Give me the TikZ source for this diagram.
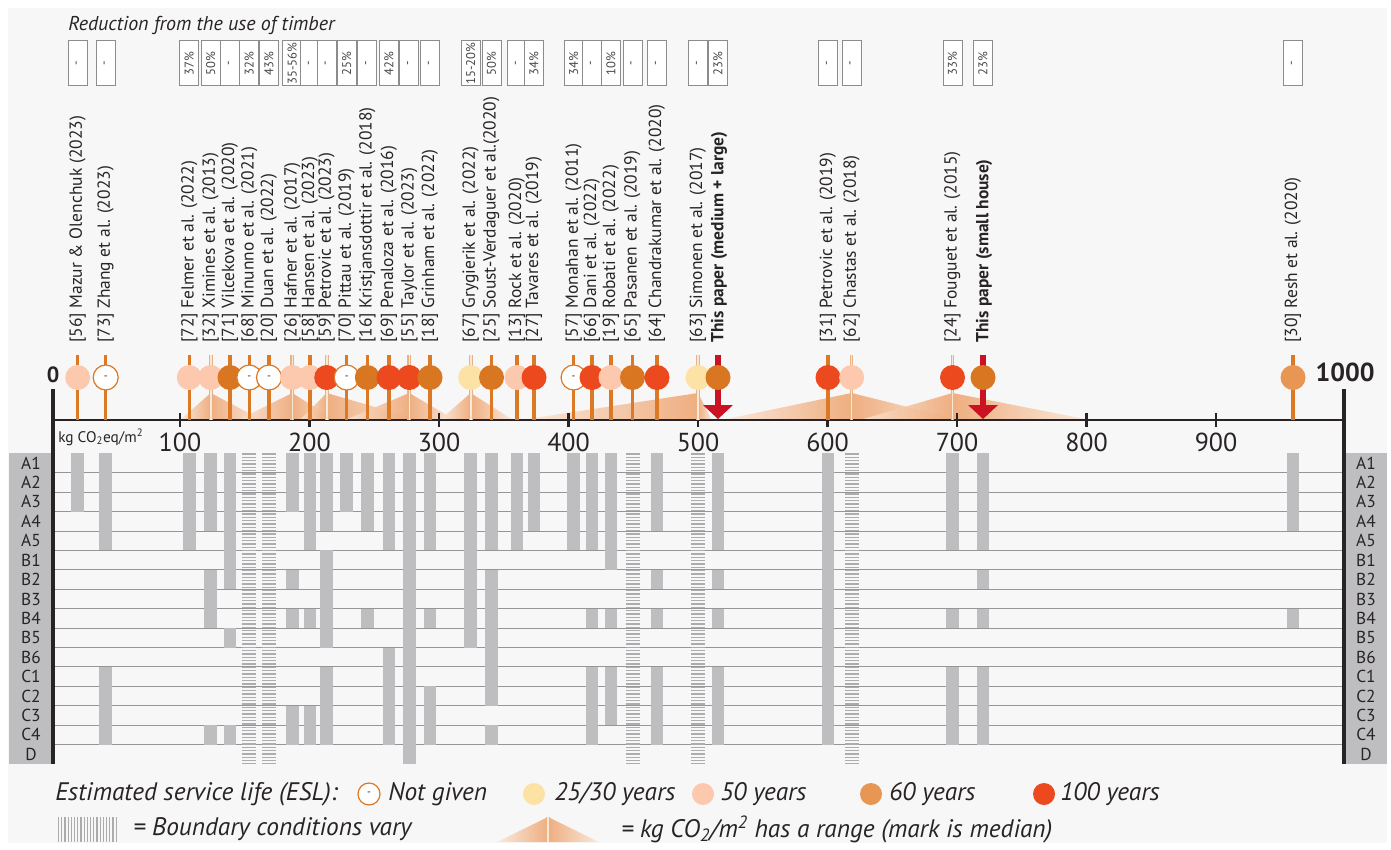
\documentclass[tikz,border=0pt]{standalone}
\usepackage{fontspec}
\setmainfont{PT Sans}
\definecolor{panel}{RGB}{247,247,247}
\definecolor{ink}{RGB}{40,36,37}
\definecolor{eslA}{RGB}{253,226,166}
\definecolor{eslB}{RGB}{252,201,174}
\definecolor{eslC}{RGB}{216,118,34}
\definecolor{eslCl}{RGB}{231,150,84}
\definecolor{eslD}{RGB}{236,74,30}
\definecolor{stemorange}{RGB}{219,121,38}
\definecolor{rangeedge}{RGB}{232,178,132}
\definecolor{rangelight}{RGB}{250,232,214}
\definecolor{rangeorange}{RGB}{238,162,108}
\definecolor{arrowred}{RGB}{202,18,34}
\definecolor{barg}{RGB}{190,190,193}
\definecolor{hatchg}{RGB}{172,172,174}
\definecolor{gridg}{RGB}{150,150,150}
\definecolor{boxgray}{RGB}{140,140,140}
\definecolor{pcttext}{RGB}{70,70,70}

\begin{document}
\begin{tikzpicture}[x=0.75pt,y=0.75pt,yscale=-1,xscale=1,
  stem/.style={draw=stemorange,line width=2.6pt},
  rstem/.style={draw=rangeedge,line width=0.8pt,double=rangelight,double distance=1.2pt},
  esl/.style={circle,inner sep=0pt,minimum size=18.75pt},
  eA/.style={esl,fill=eslA},
  eB/.style={esl,fill=eslB},
  eC/.style={esl,fill=eslC},
  eCl/.style={esl,fill=eslCl},
  eD/.style={esl,fill=eslD},
  eng/.style={esl,fill=white,draw=stemorange,line width=0.9pt,text=ink,font=\fontsize{8}{8}\selectfont},
  study/.style={rotate=90,anchor=west,inner sep=0pt,text=ink,font=\fontsize{13.1}{15}\selectfont},
  paper/.style={study,font=\fontsize{13.1}{15}\selectfont\bfseries},
  pct/.style={rotate=90,draw=boxgray,line width=0.6pt,fill=white,minimum width=33.75pt,minimum height=14.25pt,inner sep=0pt,text=pcttext,font=\fontsize{9.5}{10}\selectfont},
  bar/.style={fill=barg},
  hatch/.style={draw=hatchg,line width=10.5pt,dash pattern=on 1.1pt off 1.4pt},
  rowline/.style={draw=gridg,line width=0.7pt},
  rowlab/.style={inner sep=0pt,text=ink,font=\fontsize{13}{13}\selectfont},
  tickmark/.style={draw=ink,line width=2.2pt},
  ticklab/.style={inner sep=0pt,text=ink,font=\fontsize{19.5}{19.5}\selectfont},
  rampup/.style={left color=rangeorange!25,right color=rangeorange,fill opacity=0.85},
  rampdown/.style={left color=rangeorange,right color=rangeorange!25,fill opacity=0.85},
  legtext/.style={anchor=west,inner sep=0pt,text=ink,font=\fontsize{19}{19}\selectfont\itshape}]
\useasboundingbox (0,0) rectangle (1391,849);

%Shape: Rectangle [background]
\fill [white] (0,0) rectangle (1391,849);
\fill [panel] (8,8) rectangle (1387,843);

% Text Node
\draw (68,31) node [anchor=base west,inner sep=0pt,text=ink,font=\fontsize{15}{15}\selectfont\itshape] (title) {Reduction from the use of timber};

%Shape: Rectangle [reduction boxes]
\draw (77.7,63.4) node [pct] (r56) {-};
\draw (105.7,63.4) node [pct] (r73) {-};
\draw (189.3,63.4) node [pct] (r72) {37\%};
\draw (210.7,63.4) node [pct] (r32) {50\%};
\draw (230.0,63.4) node [pct] (r71) {-};
\draw (249.3,63.4) node [pct] (r68) {32\%};
\draw (269.0,63.4) node [pct] (r20) {43\%};
\draw (292.3,63.4) node [pct] (r26) {35-56\%};
\draw (310.0,63.4) node [pct] (r58) {-};
\draw (326.7,63.4) node [pct] (r59) {-};
\draw (346.7,63.4) node [pct] (r70) {25\%};
\draw (367.3,63.4) node [pct] (r16) {-};
\draw (389.0,63.4) node [pct] (r69) {42\%};
\draw (409.3,63.4) node [pct] (r55) {-};
\draw (430.0,63.4) node [pct] (r18) {-};
\draw (470.7,63.4) node [pct] (r67) {15-20\%};
\draw (491.5,63.4) node [pct] (r25) {50\%};
\draw (517.0,63.4) node [pct] (r13) {-};
\draw (534.0,63.4) node [pct] (r27) {34\%};
\draw (573.6,63.4) node [pct] (r57) {34\%};
\draw (592.0,63.4) node [pct] (r66) {-};
\draw (611.0,63.4) node [pct] (r19) {10\%};
\draw (632.5,63.4) node [pct] (r65) {-};
\draw (657.0,63.4) node [pct] (r64) {-};
\draw (698.0,63.4) node [pct] (r63) {-};
\draw (718.0,63.4) node [pct] (rpa) {23\%};
\draw (828.0,63.4) node [pct] (r31) {-};
\draw (851.6,63.4) node [pct] (r62) {-};
\draw (952.5,63.4) node [pct] (r24) {33\%};
\draw (983.0,63.4) node [pct] (rpb) {23\%};
\draw (1293.0,63.4) node [pct] (r30) {-};

%Shape: Triangle [ranges]
\shade [rampup] (180,420) -- (210.7,393) -- (210.7,420) -- cycle;
\shade [rampdown] (210.7,420) -- (210.7,393) -- (262,420) -- cycle;
\shade [rampup] (238,420) -- (292.3,393) -- (292.3,420) -- cycle;
\shade [rampdown] (292.3,420) -- (292.3,393) -- (335,420) -- cycle;
\shade [rampup] (300,420) -- (326.7,393) -- (326.7,420) -- cycle;
\shade [rampdown] (326.7,420) -- (326.7,393) -- (420,420) -- cycle;
\shade [rampup] (345,420) -- (409.3,393) -- (409.3,420) -- cycle;
\shade [rampdown] (409.3,420) -- (409.3,393) -- (455,420) -- cycle;
\shade [rampup] (440,420) -- (470.7,393) -- (470.7,420) -- cycle;
\shade [rampdown] (470.7,420) -- (470.7,393) -- (513,420) -- cycle;
\shade [rampup] (521,420) -- (698,393) -- (698,420) -- cycle;
\shade [rampdown] (698,420) -- (698,393) -- (712,420) -- cycle;
\shade [rampup] (722,420) -- (851.6,393) -- (851.6,420) -- cycle;
\shade [rampdown] (851.6,420) -- (851.6,393) -- (960,420) -- cycle;
\shade [rampup] (860,420) -- (952.5,393) -- (952.5,420) -- cycle;
\shade [rampdown] (952.5,420) -- (952.5,393) -- (1090,420) -- cycle;

%Straight Lines [grid rows]
\draw [rowline] (55,472.7) -- (1342,472.7);
\draw [rowline] (55,492.1) -- (1342,492.1);
\draw [rowline] (55,511.6) -- (1342,511.6);
\draw [rowline] (55,531.0) -- (1342,531.0);
\draw [rowline] (55,550.4) -- (1342,550.4);
\draw [rowline] (55,569.8) -- (1342,569.8);
\draw [rowline] (55,589.2) -- (1342,589.2);
\draw [rowline] (55,608.7) -- (1342,608.7);
\draw [rowline] (55,628.1) -- (1342,628.1);
\draw [rowline] (55,647.5) -- (1342,647.5);
\draw [rowline] (55,666.9) -- (1342,666.9);
\draw [rowline] (55,686.3) -- (1342,686.3);
\draw [rowline] (55,705.8) -- (1342,705.8);
\draw [rowline] (55,725.2) -- (1342,725.2);
\draw [rowline] (55,744.6) -- (1342,744.6);

%Shape: Rectangle [life cycle stages covered]
\fill [bar] (71.4,453.3) rectangle (84.0,511.6);
\fill [bar] (99.4,453.3) rectangle (112.0,550.4);
\fill [bar] (99.4,666.9) rectangle (112.0,744.6);
\fill [bar] (183.0,453.3) rectangle (195.6,550.4);
\fill [bar] (204.4,453.3) rectangle (217.0,531.0);
\fill [bar] (204.4,569.8) rectangle (217.0,628.1);
\fill [bar] (204.4,725.2) rectangle (217.0,744.6);
\fill [bar] (223.7,453.3) rectangle (236.3,589.2);
\fill [bar] (223.7,628.1) rectangle (236.3,647.5);
\fill [bar] (223.7,725.2) rectangle (236.3,744.6);
\draw [hatch] (249.3,453.3) -- (249.3,764);
\draw [hatch] (269.0,453.3) -- (269.0,764);
\fill [bar] (286.0,453.3) rectangle (298.6,511.6);
\fill [bar] (286.0,569.8) rectangle (298.6,589.2);
\fill [bar] (286.0,608.7) rectangle (298.6,628.1);
\fill [bar] (286.0,705.8) rectangle (298.6,744.6);
\fill [bar] (303.7,453.3) rectangle (316.3,550.4);
\fill [bar] (303.7,608.7) rectangle (316.3,628.1);
\fill [bar] (303.7,705.8) rectangle (316.3,744.6);
\fill [bar] (320.4,453.3) rectangle (333.0,531.0);
\fill [bar] (320.4,550.4) rectangle (333.0,647.5);
\fill [bar] (320.4,666.9) rectangle (333.0,744.6);
\fill [bar] (340.4,453.3) rectangle (353.0,511.6);
\fill [bar] (361.0,453.3) rectangle (373.6,531.0);
\fill [bar] (361.0,608.7) rectangle (373.6,628.1);
\fill [bar] (382.7,453.3) rectangle (395.3,550.4);
\fill [bar] (382.7,647.5) rectangle (395.3,744.6);
\fill [bar] (403.0,453.3) rectangle (415.6,764.0);
\fill [bar] (423.7,453.3) rectangle (436.3,550.4);
\fill [bar] (423.7,608.7) rectangle (436.3,628.1);
\fill [bar] (423.7,686.3) rectangle (436.3,744.6);
\fill [bar] (464.4,453.3) rectangle (477.0,647.5);
\fill [bar] (485.2,453.3) rectangle (497.8,550.4);
\fill [bar] (485.2,569.8) rectangle (497.8,705.8);
\fill [bar] (485.2,725.2) rectangle (497.8,744.6);
\fill [bar] (510.7,453.3) rectangle (523.3,550.4);
\fill [bar] (527.7,453.3) rectangle (540.3,531.0);
\fill [bar] (567.3,453.3) rectangle (579.9,550.4);
\fill [bar] (585.7,453.3) rectangle (598.3,550.4);
\fill [bar] (585.7,608.7) rectangle (598.3,628.1);
\fill [bar] (585.7,666.9) rectangle (598.3,744.6);
\fill [bar] (604.7,453.3) rectangle (617.3,569.8);
\fill [bar] (604.7,608.7) rectangle (617.3,628.1);
\fill [bar] (604.7,666.9) rectangle (617.3,725.2);
\draw [hatch] (632.5,453.3) -- (632.5,764);
\fill [bar] (650.7,453.3) rectangle (663.3,531.0);
\fill [bar] (650.7,569.8) rectangle (663.3,589.2);
\fill [bar] (650.7,608.7) rectangle (663.3,628.1);
\fill [bar] (650.7,666.9) rectangle (663.3,744.6);
\draw [hatch] (698.0,453.3) -- (698.0,764);
\fill [bar] (711.7,453.3) rectangle (724.3,550.4);
\fill [bar] (711.7,569.8) rectangle (724.3,589.2);
\fill [bar] (711.7,608.7) rectangle (724.3,628.1);
\fill [bar] (711.7,666.9) rectangle (724.3,744.6);
\fill [bar] (821.7,453.3) rectangle (834.3,744.6);
\draw [hatch] (851.6,453.3) -- (851.6,764);
\fill [bar] (946.2,453.3) rectangle (958.8,550.4);
\fill [bar] (946.2,608.7) rectangle (958.8,628.1);
\fill [bar] (946.2,666.9) rectangle (958.8,744.6);
\fill [bar] (976.7,453.3) rectangle (989.3,550.4);
\fill [bar] (976.7,569.8) rectangle (989.3,589.2);
\fill [bar] (976.7,608.7) rectangle (989.3,628.1);
\fill [bar] (976.7,666.9) rectangle (989.3,744.6);
\fill [bar] (1286.7,453.3) rectangle (1299.3,531.0);
\fill [bar] (1286.7,608.7) rectangle (1299.3,628.1);

%Shape: Rectangle [stage columns]
\fill [bar] (9,453.3) rectangle (51,764);
\fill [bar] (1346,453.3) rectangle (1387,764);

% Text Node [stages]
\draw (31,463.0) node [rowlab] (la1) {A1};   \draw (1366,463.0) node [rowlab] (ra1) {A1};
\draw (31,482.4) node [rowlab] (la2) {A2};   \draw (1366,482.4) node [rowlab] (ra2) {A2};
\draw (31,501.8) node [rowlab] (la3) {A3};   \draw (1366,501.8) node [rowlab] (ra3) {A3};
\draw (31,521.3) node [rowlab] (la4) {A4};   \draw (1366,521.3) node [rowlab] (ra4) {A4};
\draw (31,540.7) node [rowlab] (la5) {A5};   \draw (1366,540.7) node [rowlab] (ra5) {A5};
\draw (31,560.1) node [rowlab] (lb1) {B1};   \draw (1366,560.1) node [rowlab] (rb1) {B1};
\draw (31,579.5) node [rowlab] (lb2) {B2};   \draw (1366,579.5) node [rowlab] (rb2) {B2};
\draw (31,599.0) node [rowlab] (lb3) {B3};   \draw (1366,599.0) node [rowlab] (rb3) {B3};
\draw (31,618.4) node [rowlab] (lb4) {B4};   \draw (1366,618.4) node [rowlab] (rb4) {B4};
\draw (31,637.8) node [rowlab] (lb5) {B5};   \draw (1366,637.8) node [rowlab] (rb5) {B5};
\draw (31,657.2) node [rowlab] (lb6) {B6};   \draw (1366,657.2) node [rowlab] (rb6) {B6};
\draw (31,676.6) node [rowlab] (lc1) {C1};   \draw (1366,676.6) node [rowlab] (rc1) {C1};
\draw (31,696.1) node [rowlab] (lc2) {C2};   \draw (1366,696.1) node [rowlab] (rc2) {C2};
\draw (31,715.5) node [rowlab] (lc3) {C3};   \draw (1366,715.5) node [rowlab] (rc3) {C3};
\draw (31,734.9) node [rowlab] (lc4) {C4};   \draw (1366,734.9) node [rowlab] (rc4) {C4};
\draw (31,754.3) node [rowlab] (ld) {D};     \draw (1366,754.3) node [rowlab] (rd) {D};

%Straight Lines [axis]
\draw [ink,line width=1.9pt] (53,420) -- (1344,420);
\draw [ink,line width=3pt] (53,389) -- (53,764);
\draw [ink,line width=3pt] (1344,389) -- (1344,764);
\draw [tickmark] (180,413) -- (180,427);
\draw [tickmark] (309.5,413) -- (309.5,427);
\draw [tickmark] (439,413) -- (439,427);
\draw [tickmark] (568.5,413) -- (568.5,427);
\draw [tickmark] (698,413) -- (698,427);
\draw [tickmark] (827.5,413) -- (827.5,427);
\draw [tickmark] (957,413) -- (957,427);
\draw [tickmark] (1086.5,413) -- (1086.5,427);
\draw [tickmark] (1216,413) -- (1216,427);

% Text Node [axis]
\draw (180,442) node [ticklab] (t100) {100};
\draw (309.5,442) node [ticklab] (t200) {200};
\draw (439,442) node [ticklab] (t300) {300};
\draw (568.5,442) node [ticklab] (t400) {400};
\draw (698,442) node [ticklab] (t500) {500};
\draw (827.5,442) node [ticklab] (t600) {600};
\draw (957,442) node [ticklab] (t700) {700};
\draw (1086.5,442) node [ticklab] (t800) {800};
\draw (1216,442) node [ticklab] (t900) {900};
\draw (53,375) node [inner sep=0pt,text=ink,font=\fontsize{16.5}{16.5}\selectfont\bfseries] (zero) {0};
\draw (1345,372) node [inner sep=0pt,text=ink,font=\fontsize{19.5}{19.5}\selectfont\bfseries] (thousand) {1000};
\draw (58,437) node [anchor=west,inner sep=0pt,text=ink,font=\fontsize{11.5}{12}\selectfont] (unit) {kg CO\textsubscript{2}eq/m\textsuperscript{2}};

%Straight Lines [stems]
\draw [stem] (77.7,355) -- (77.7,420);
\draw [stem] (105.7,355) -- (105.7,420);
\draw [stem] (189.3,355) -- (189.3,420);
\draw [rstem] (210.7,355) -- (210.7,420);
\draw [stem] (230.0,355) -- (230.0,420);
\draw [stem] (249.3,355) -- (249.3,420);
\draw [stem] (269.0,355) -- (269.0,420);
\draw [rstem] (292.3,355) -- (292.3,420);
\draw [stem] (310.0,355) -- (310.0,420);
\draw [rstem] (326.7,355) -- (326.7,420);
\draw [stem] (346.7,355) -- (346.7,420);
\draw [stem] (367.3,355) -- (367.3,420);
\draw [stem] (389.0,355) -- (389.0,420);
\draw [rstem] (409.3,355) -- (409.3,420);
\draw [stem] (430.0,355) -- (430.0,420);
\draw [rstem] (470.7,355) -- (470.7,420);
\draw [stem] (491.5,355) -- (491.5,420);
\draw [stem] (517.0,355) -- (517.0,420);
\draw [stem] (534.0,355) -- (534.0,420);
\draw [stem] (573.6,355) -- (573.6,420);
\draw [stem] (592.0,355) -- (592.0,420);
\draw [stem] (611.0,355) -- (611.0,420);
\draw [stem] (632.5,355) -- (632.5,420);
\draw [stem] (657.0,355) -- (657.0,420);
\draw [rstem] (698.0,355) -- (698.0,420);
\draw [arrowred,line width=4.5pt] (718.0,355) -- (718.0,408);
\draw [stem] (828.0,355) -- (828.0,420);
\draw [rstem] (851.6,355) -- (851.6,420);
\draw [rstem] (952.5,355) -- (952.5,420);
\draw [arrowred,line width=4.5pt] (983.0,355) -- (983.0,408);
\draw [stem] (1293.0,355) -- (1293.0,420);

%Shape: Circle [service life]
\draw (77.7,377.5) node [eB] (m56) {};
\draw (105.7,377.5) node [eng] (m73) {-};
\draw (189.3,377.5) node [eB] (m72) {};
\draw (210.7,377.5) node [eB] (m32) {};
\draw (230.0,377.5) node [eC] (m71) {};
\draw (249.3,377.5) node [eng] (m68) {-};
\draw (269.0,377.5) node [eng] (m20) {-};
\draw (292.3,377.5) node [eB] (m26) {};
\draw (310.0,377.5) node [eB] (m58) {};
\draw (326.7,377.5) node [eD] (m59) {};
\draw (346.7,377.5) node [eng] (m70) {-};
\draw (367.3,377.5) node [eC] (m16) {};
\draw (389.0,377.5) node [eD] (m69) {};
\draw (409.3,377.5) node [eD] (m55) {};
\draw (430.0,377.5) node [eC] (m18) {};
\draw (470.7,377.5) node [eA] (m67) {};
\draw (491.5,377.5) node [eC] (m25) {};
\draw (517.0,377.5) node [eB] (m13) {};
\draw (534.0,377.5) node [eD] (m27) {};
\draw (573.6,377.5) node [eng] (m57) {-};
\draw (592.0,377.5) node [eD] (m66) {};
\draw (611.0,377.5) node [eB] (m19) {};
\draw (632.5,377.5) node [eC] (m65) {};
\draw (657.0,377.5) node [eD] (m64) {};
\draw (698.0,377.5) node [eA] (m63) {};
\draw (718.0,377.5) node [eC] (mpa) {};
\draw (828.0,377.5) node [eD] (m31) {};
\draw (851.6,377.5) node [eB] (m62) {};
\draw (952.5,377.5) node [eD] (m24) {};
\draw (983.0,377.5) node [eC] (mpb) {};
\draw (1293.0,377.5) node [eCl] (m30) {};

%Shape: Triangle [this paper]
\fill [arrowred] (703,405) -- (733,405) -- (718,419) -- cycle;
\fill [arrowred] (968,405) -- (998,405) -- (983,419) -- cycle;

% Text Node [studies]
\draw (77.7,343) node [study] (l56) {[56] Mazur \& Olenchuk (2023)};
\draw (105.7,343) node [study] (l73) {[73] Zhang et al. (2023)};
\draw (189.3,343) node [study] (l72) {[72] Felmer et al. (2022)};
\draw (210.7,343) node [study] (l32) {[32] Ximines et al. (2013)};
\draw (230.0,343) node [study] (l71) {[71] Vilcekova et al. (2020)};
\draw (249.3,343) node [study] (l68) {[68] Minunno et al. (2021)};
\draw (269.0,343) node [study] (l20) {[20] Duan et al. (2022)};
\draw (292.3,343) node [study] (l26) {[26] Hafner et al. (2017)};
\draw (310.0,343) node [study] (l58) {[58] Hansen et al. (2023)};
\draw (326.7,343) node [study] (l59) {[59] Petrovic et al. (2023)};
\draw (346.7,343) node [study] (l70) {[70] Pittau et al. (2019)};
\draw (367.3,343) node [study] (l16) {[16] Kristjansdottir et al. (2018)};
\draw (389.0,343) node [study] (l69) {[69] Penaloza et al. (2016)};
\draw (409.3,343) node [study] (l55) {[55] Taylor et al. (2023)};
\draw (430.0,343) node [study] (l18) {[18] Grinham et al. (2022)};
\draw (470.7,343) node [study] (l67) {[67] Grygierik et al. (2022)};
\draw (491.5,343) node [study] (l25) {[25] Soust-Verdaguer et al.(2020)};
\draw (517.0,343) node [study] (l13) {[13] Rock et al. (2020)};
\draw (534.0,343) node [study] (l27) {[27] Tavares et al. (2019)};
\draw (573.6,343) node [study] (l57) {[57] Monahan et al. (2011)};
\draw (592.0,343) node [study] (l66) {[66] Dani et al. (2022)};
\draw (611.0,343) node [study] (l19) {[19] Robati et al. (2022)};
\draw (632.5,343) node [study] (l65) {[65] Pasanen et al. (2019)};
\draw (657.0,343) node [study] (l64) {[64] Chandrakumar et al. (2020)};
\draw (698.0,343) node [study] (l63) {[63] Simonen et al. (2017)};
\draw (719.0,343) node [paper] (lpa) {This paper (medium + large)};
\draw (828.0,343) node [study] (l31) {[31] Petrovic et al. (2019)};
\draw (851.6,343) node [study] (l62) {[62] Chastas et al. (2018)};
\draw (952.5,343) node [study] (l24) {[24] Fouguet et al. (2015)};
\draw (984.0,343) node [paper] (lpb) {This paper (small house)};
\draw (1293.0,343) node [study] (l30) {[30] Resh et al. (2020)};

% Text Node [legend]
\draw (55,794) node [legtext] (lesl) {Estimated service life (ESL):};
\draw (369,794) node [eng,minimum size=16.5pt] (kng) {-};
\draw (388,794) node [legtext] (tng) {Not given};
\draw (534,794) node [eA,minimum size=16.5pt] (kA) {};
\draw (554,794) node [legtext] (tA) {25/30 years};
\draw (703,794) node [eB,minimum size=16.5pt] (kB) {};
\draw (720,794) node [legtext] (tB) {50 years};
\draw (871,794) node [eCl,minimum size=16.5pt] (kC) {};
\draw (889,794) node [legtext] (tC) {60 years};
\draw (1044,794) node [eD,minimum size=16.5pt] (kD) {};
\draw (1060,794) node [legtext] (tD) {100 years};
\draw [draw=hatchg,line width=18.75pt,dash pattern=on 0.9pt off 1.5pt] (58,829.5) -- (118,829.5);
\draw (133,829.5) node [legtext] (tbc) {= Boundary conditions vary};
\shade [rampup] (497,842) -- (548,817) -- (548,842) -- cycle;
\shade [rampdown] (548,842) -- (548,817) -- (599,842) -- cycle;
\draw [rstem] (548,817) -- (548,842);
\draw (621,829.5) node [legtext] (trg) {= kg CO\textsubscript{2}/m\textsuperscript{2} has a range (mark is median)};

\end{tikzpicture}
\end{document}
